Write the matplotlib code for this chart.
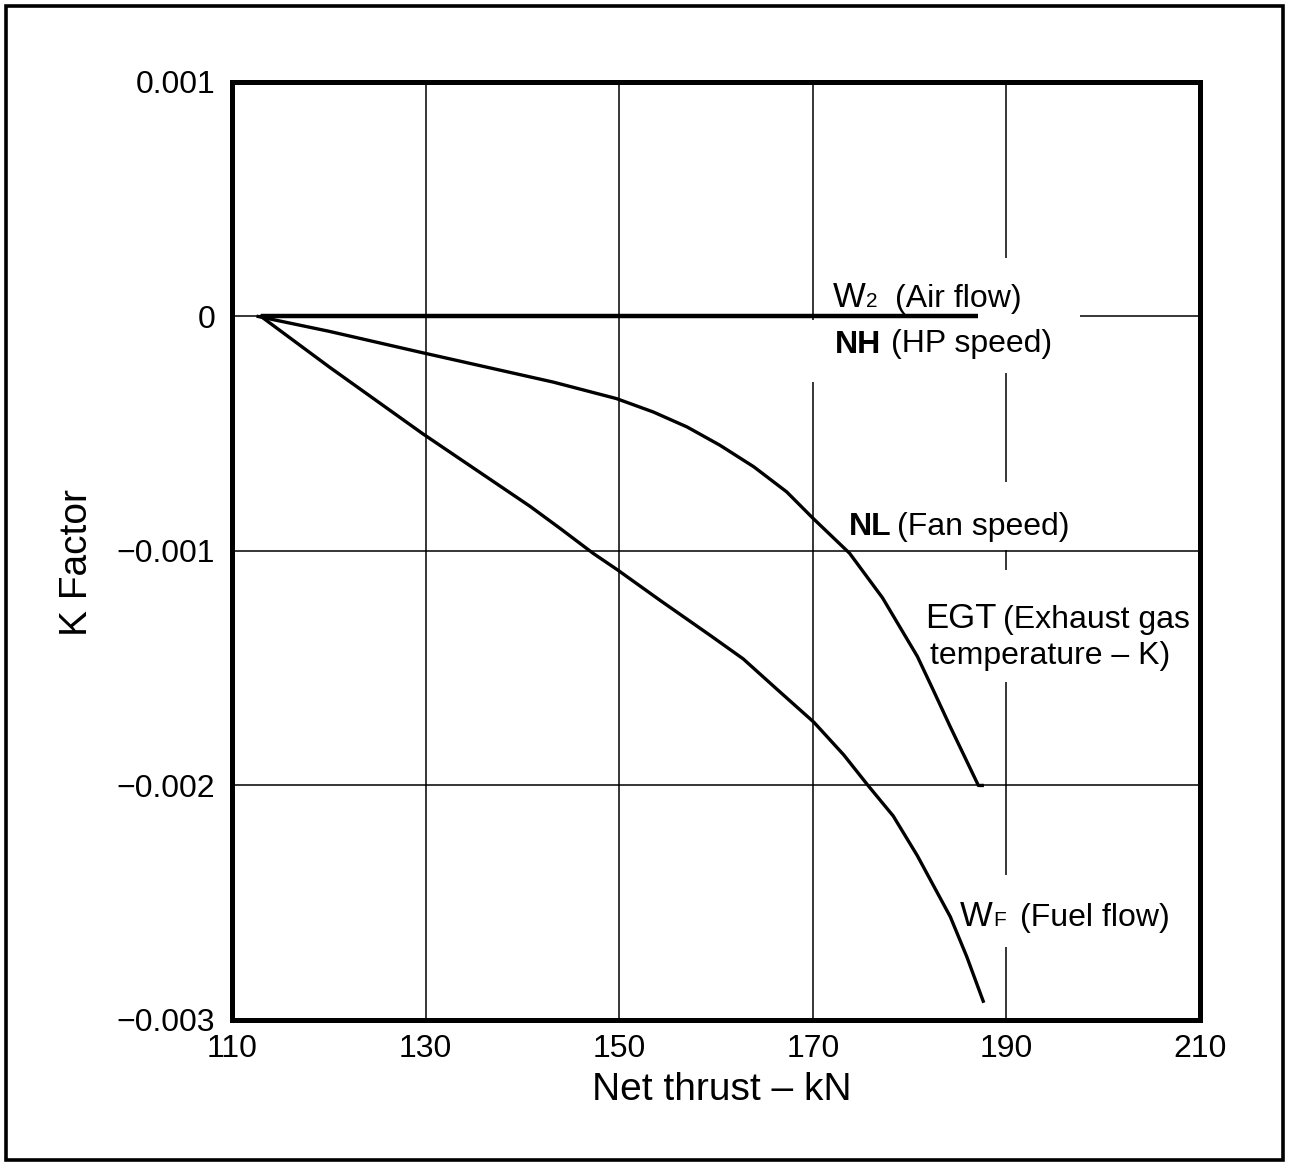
import matplotlib
matplotlib.use("Agg")
import matplotlib.pyplot as plt
from matplotlib.patches import Rectangle

plt.rcParams['font.family'] = ['Liberation Sans', 'DejaVu Sans']

# ------------------------------
# Data
# ------------------------------
# W2 (air flow) / NH (HP speed): flat at zero
w2_x = [113.0, 187.1]
w2_k = [0.0, 0.0]

# NL (fan speed) / EGT
nl_x = [112.7, 120.0, 129.4, 136.3, 143.2, 149.7, 153.5, 157.0, 160.4, 163.9,
        167.3, 170.0, 173.8, 177.2, 180.8, 182.4, 184.2, 187.1, 187.5]
nl_k = [0.0, -0.000063, -0.000152, -0.000216, -0.00028, -0.00035, -0.000407,
        -0.000471, -0.000549, -0.000641, -0.000748, -0.00086, -0.00101, -0.0012,
        -0.00145, -0.00159, -0.00175, -0.002, -0.002]

# WF (fuel flow)
wf_x = [113.0, 120.1, 129.7, 140.8, 143.9, 147.3, 149.8, 154.2, 159.4, 162.8,
        166.3, 170.1, 173.2, 175.7, 178.3, 180.8, 184.2, 185.9, 187.6]
wf_k = [0.0, -0.000217, -0.0005, -0.00081, -0.000904, -0.00101, -0.00108,
        -0.00121, -0.00136, -0.00146, -0.00159, -0.00173, -0.00187, -0.002,
        -0.00213, -0.0023, -0.00256, -0.00273, -0.00292]

x_ticks = [110, 130, 150, 170, 190, 210]
x_tick_labels = ["110", "130", "150", "170", "190", "210"]
y_ticks = [-0.003, -0.002, -0.001, 0.0, 0.001]
y_tick_labels = ["\u22120.003", "\u22120.002", "\u22120.001", "0", "0.001"]

# ------------------------------
# Figure
# ------------------------------
fig = plt.figure(figsize=(12.89, 11.63), dpi=100)
ax = fig.add_axes([0.18, 0.123, 0.751, 0.8065])

ax.set_xlim(110, 210)
ax.set_ylim(-0.003, 0.001)

# grid drawn by hand so the gaps behind the labels show
grid_kw = dict(color="black", lw=1.1, zorder=1)
for yv in [-0.001, -0.002]:
    ax.hlines(yv, 110, 210, **grid_kw)
ax.hlines(0.0, 110, 187.0, **grid_kw)
ax.hlines(0.0, 197.6, 210, **grid_kw)
for xv in [130, 150]:
    ax.vlines(xv, -0.003, 0.001, **grid_kw)
ax.vlines(170, -0.000017, 0.001, **grid_kw)
ax.vlines(170, -0.003, -0.000281, **grid_kw)
for y0, y1 in [(0.000251, 0.001), (-0.000706, -0.000243), (-0.00108, -0.000996),
               (-0.00238, -0.00156), (-0.003, -0.00269)]:
    ax.vlines(190, y0, y1, **grid_kw)

# curves
ax.plot(w2_x, w2_k, color="black", lw=3.2, solid_capstyle="butt", zorder=3)
ax.plot(nl_x, nl_k, color="black", lw=2.4, solid_joinstyle="round", zorder=3)
ax.plot(wf_x, wf_k, color="black", lw=2.4, solid_joinstyle="round", zorder=3)

# labels on the curves
big = 25
bold = 23
par = 23
sub = 15
ax.text(172.1, 0.00004, "W", fontsize=big, va="baseline")
ax.text(175.5, 0.00004, "2", fontsize=sub, va="baseline")
ax.text(178.5, 0.00004, "(Air flow)", fontsize=par, va="baseline")

ax.text(172.3, -0.000157, "NH", fontsize=bold, fontweight="bold", va="baseline")
ax.text(178.1, -0.00015, "(HP speed)", fontsize=par, va="baseline")

ax.text(173.7, -0.00093, "NL", fontsize=bold, fontweight="bold", va="baseline")
ax.text(178.7, -0.00093, "(Fan speed)", fontsize=par, va="baseline")

ax.text(181.6, -0.00133, "EGT", fontsize=big, va="baseline")
ax.text(189.65, -0.00133, "(Exhaust gas", fontsize=par, va="baseline")
ax.text(182.1, -0.00148, "temperature \u2013 K)", fontsize=par, va="baseline")

ax.text(185.2, -0.0026, "W", fontsize=big, va="baseline")
ax.text(188.6, -0.0026, "F", fontsize=sub, va="baseline")
ax.text(191.4, -0.0026, "(Fuel flow)", fontsize=par, va="baseline")

# axes styling
for sp in ax.spines.values():
    sp.set_linewidth(3.6)
ax.set_xticks(x_ticks)
ax.set_xticklabels(x_tick_labels)
ax.set_yticks(y_ticks)
ax.set_yticklabels(y_tick_labels)
ax.tick_params(axis="both", length=0, labelsize=23)
ax.tick_params(axis="x", pad=10)
ax.tick_params(axis="y", pad=12)

ax.set_xlabel("Net thrust \u2013 kN", fontsize=28)
ax.set_ylabel("K Factor", fontsize=28)
ax.xaxis.set_label_coords(0.506, -0.055)
ax.yaxis.set_label_coords(-0.16, 0.488)
ax.yaxis.label.set_va("center")

# outer frame around the whole figure
fig.add_artist(Rectangle((0.0047, 0.0026), 0.9906, 0.9922, transform=fig.transFigure,
                         fill=False, lw=2.6, edgecolor="black"))

fig.savefig("out.png", dpi=100)
